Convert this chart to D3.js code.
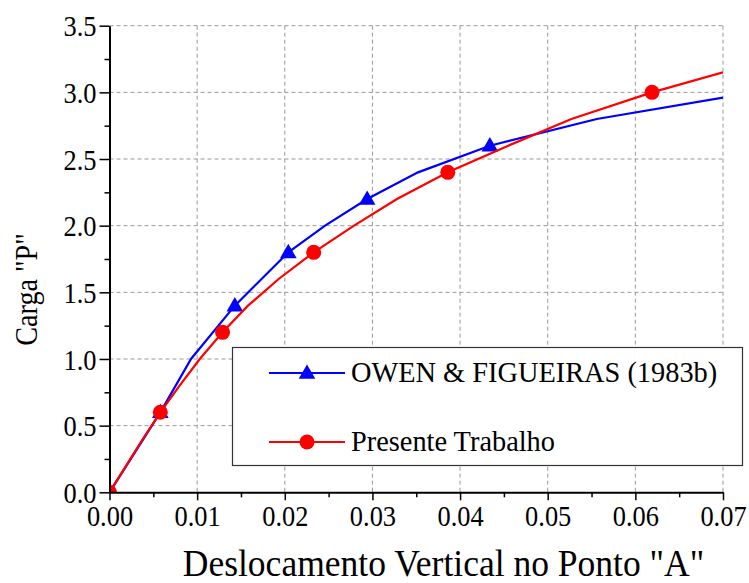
<!DOCTYPE html>
<html>
<head>
<meta charset="utf-8">
<script src="https://cdn.jsdelivr.net/npm/d3@7"></script>
<style>
  html, body { margin: 0; padding: 0; background: #fff; }
  svg { display: block; }
</style>
</head>
<body>
<svg id="chart" width="749" height="583"></svg>
<script>
// Load-displacement data: reference curve (OWEN & FIGUEIRAS) and present work
const owenX = [0, 0.0058, 0.0093, 0.0143, 0.0204, 0.0246, 0.0294, 0.0352, 0.0434, 0.0556, 0.07];
const owenY = [0, 0.6, 1.0, 1.4, 1.8, 2.0, 2.2, 2.4, 2.6, 2.8, 2.96];
const owenMarkX = [0, 0.0058, 0.0143, 0.0204, 0.0294, 0.0434];
const owenMarkY = [0, 0.6, 1.4, 1.8, 2.2, 2.6];

const presX = [0, 0.0019, 0.0038, 0.0058, 0.0080, 0.0103, 0.0129, 0.0158, 0.0193, 0.0233, 0.0279, 0.0328, 0.0386, 0.0455, 0.0527, 0.0619, 0.07];
const presY = [0, 0.2, 0.4, 0.6, 0.8, 1.0, 1.2, 1.4, 1.6, 1.8, 2.0, 2.2, 2.4, 2.6, 2.8, 3.0, 3.15];
const presMarkX = [0, 0.0058, 0.0129, 0.0233, 0.0386, 0.0619];
const presMarkY = [0, 0.6, 1.2, 1.8, 2.4, 3.0];

const xTicks = [0, 0.01, 0.02, 0.03, 0.04, 0.05, 0.06, 0.07];
const yTicks = [0, 0.5, 1.0, 1.5, 2.0, 2.5, 3.0, 3.5];
const xMinorTicks = [0.005, 0.015, 0.025, 0.035, 0.045, 0.055, 0.065];
const yMinorTicks = [0.25, 0.75, 1.25, 1.75, 2.25, 2.75, 3.25];

const seriesNames = ["OWEN & FIGUEIRAS (1983b)", "Presente Trabalho"];
const xTitle = 'Deslocamento Vertical no Ponto "A"';
const yTitle = 'Carga "P"';

const FONT = "'Liberation Serif'";
const SQ = 0.88; // horizontal squeeze of the narrow serif lettering

const svg = d3.select("#chart");
const plotL = 109.5, plotR = 723, plotT = 25.7, plotB = 492.3;

const x = d3.scaleLinear().domain([0, 0.07]).range([plotL, plotR]);
const y = d3.scaleLinear().domain([0, 3.5]).range([plotB, plotT]);

// grid
const grid = svg.append("g");
grid.selectAll(".gx").data(xTicks.filter(d => d > 0)).join("line")
  .attr("x1", d => x(d)).attr("x2", d => x(d))
  .attr("y1", plotT).attr("y2", plotB)
  .attr("stroke", "#999").attr("stroke-width", 1).attr("stroke-dasharray", "4,3");
grid.selectAll(".gy").data(yTicks.filter(d => d > 0)).join("line")
  .attr("x1", plotL).attr("x2", plotR)
  .attr("y1", d => y(d)).attr("y2", d => y(d))
  .attr("stroke", "#999").attr("stroke-width", 1).attr("stroke-dasharray", "4,3");

// clip for plotted data
svg.append("clipPath").attr("id", "plotclip").append("rect")
  .attr("x", plotL).attr("y", plotT).attr("width", plotR - plotL).attr("height", plotB - plotT);

const plot = svg.append("g").attr("clip-path", "url(#plotclip)");
const line = d3.line().x(d => x(d[0])).y(d => y(d[1]));

const owen = owenX.map((v, i) => [v, owenY[i]]);
const pres = presX.map((v, i) => [v, presY[i]]);
const owenM = owenMarkX.map((v, i) => [v, owenMarkY[i]]);
const presM = presMarkX.map((v, i) => [v, presMarkY[i]]);

const tri = d3.symbol().type(d3.symbolTriangle).size(120);
const circ = d3.symbol().type(d3.symbolCircle).size(Math.PI * 7.5 * 7.5);

plot.append("path").datum(owen).attr("d", line)
  .attr("fill", "none").attr("stroke", "#0000ff").attr("stroke-width", 2.2);
plot.selectAll(".tri").data(owenM).join("path")
  .attr("d", tri).attr("transform", d => `translate(${x(d[0])},${y(d[1]) + 1})`)
  .attr("fill", "#0000ff");

plot.append("path").datum(pres).attr("d", line)
  .attr("fill", "none").attr("stroke", "#ff0000").attr("stroke-width", 2.2);
plot.selectAll(".circ").data(presM).join("path")
  .attr("d", circ).attr("transform", d => `translate(${x(d[0])},${y(d[1])})`)
  .attr("fill", "#ff0000");

// axes
const fmt = d3.format(".2f");
const fmtY = d3.format(".1f");
const xAxis = svg.append("g").attr("transform", `translate(0,${plotB})`)
  .call(d3.axisBottom(x).tickValues(xTicks).tickFormat(fmt).tickSize(8).tickSizeOuter(0));
svg.append("g").attr("transform", `translate(0,${plotB})`)
  .call(d3.axisBottom(x).tickValues(xMinorTicks).tickFormat("").tickSize(5).tickSizeOuter(0))
  .call(g => g.select(".domain").remove());
const yAxis = svg.append("g").attr("transform", `translate(${plotL},0)`)
  .call(d3.axisLeft(y).tickValues(yTicks).tickFormat(fmtY).tickSize(10).tickSizeOuter(0));
svg.append("g").attr("transform", `translate(${plotL},0)`)
  .call(d3.axisLeft(y).tickValues(yMinorTicks).tickFormat("").tickSize(5).tickSizeOuter(0))
  .call(g => g.select(".domain").remove());

svg.selectAll(".domain").attr("stroke", "#000").attr("stroke-width", 2);
svg.selectAll(".tick line").attr("stroke", "#000").attr("stroke-width", 1.5);

xAxis.selectAll(".tick text")
  .style("font-family", FONT).style("font-size", "30px").attr("fill", "#000")
  .attr("dy", null).attr("y", 34).attr("x", 0)
  .attr("transform", `scale(${SQ},1)`);
yAxis.selectAll(".tick text")
  .style("font-family", FONT).style("font-size", "30px").attr("fill", "#000")
  .attr("dy", "0.34em").attr("x", -13 / SQ)
  .attr("transform", `scale(${SQ},1)`);

// axis titles
function label(g, tx, ty, rot, sx, size, anchor, str) {
  return g.append("g").attr("transform", `translate(${tx},${ty}) rotate(${rot}) scale(${sx},1)`)
    .append("text").attr("x", 0).attr("y", 0)
    .attr("text-anchor", anchor)
    .style("font-family", FONT).style("font-size", size + "px").attr("fill", "#000")
    .text(str);
}
label(svg, 443.5, 576, 0, 0.935, 38, "middle", xTitle);
label(svg, 37, 289.5, -90, SQ, 32, "middle", yTitle);

// legend
const lg = svg.append("g");
lg.append("rect").attr("x", 232.5).attr("y", 347.5).attr("width", 510).attr("height", 118)
  .attr("fill", "#fff").attr("stroke", "#333").attr("stroke-width", 1.2);
const rows = [
  { name: seriesNames[0], color: "#0000ff", sym: tri, ly: 373, ty: 382, dy: 1 },
  { name: seriesNames[1], color: "#ff0000", sym: circ, ly: 442, ty: 451, dy: 0 }
];
rows.forEach(r => {
  lg.append("line").attr("x1", 269).attr("x2", 345).attr("y1", r.ly).attr("y2", r.ly)
    .attr("stroke", r.color).attr("stroke-width", 2.2);
  lg.append("path").attr("d", r.sym).attr("transform", `translate(307,${r.ly + r.dy})`)
    .attr("fill", r.color);
  label(lg, 351, r.ty, 0, 0.93, 30.5, "start", r.name);
});
</script>
</body>
</html>
